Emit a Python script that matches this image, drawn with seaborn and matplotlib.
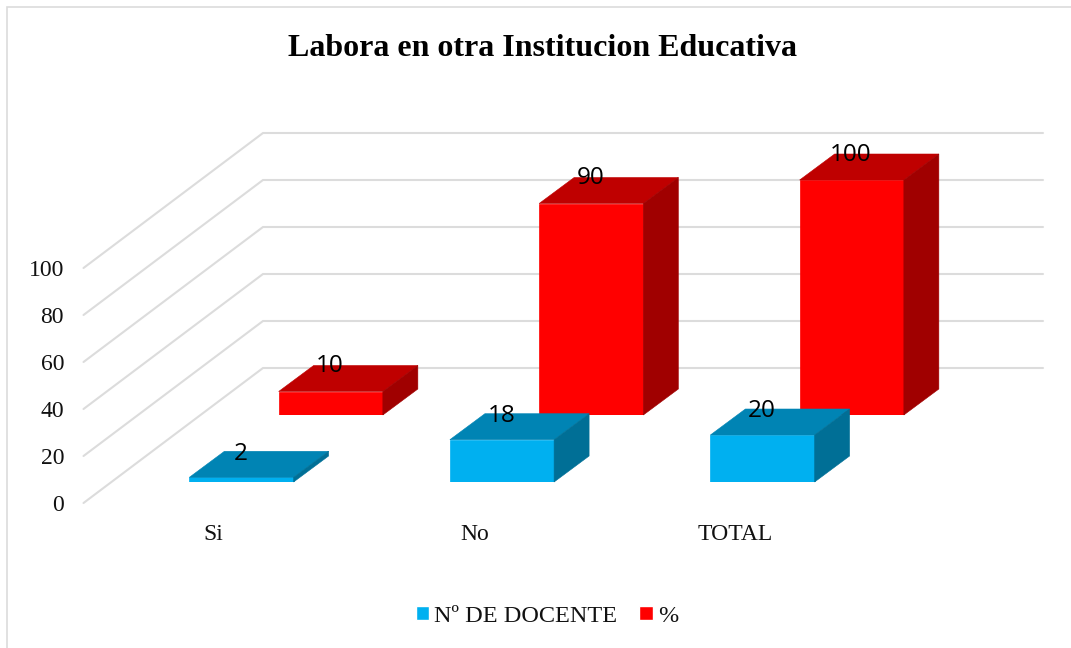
import matplotlib
matplotlib.use('Agg')
import matplotlib.pyplot as plt
import pandas as pd
import seaborn as sns
from matplotlib.patches import Patch, Polygon, Rectangle

categories = ['Si', 'No', 'TOTAL']
docentes = [2, 18, 20]
porcentaje = [10, 90, 100]
y_ticks = [0, 20, 40, 60, 80, 100]
title = 'Labora en otra Institucion Educativa'

W, H = 1071, 648
SERIF = 'Liberation Serif'
GRID = '#dcdcdc'
# 1 category = 260.5 px, 1 y unit = 2.35 px
CAT_PX, UNIT_PX = 260.5, 2.35

sns.set_theme(style='white')
plt.rcParams['font.family'] = SERIF

fig = plt.figure(figsize=(W / 100, H / 100), dpi=100, facecolor='white')


def plane_axes(off_x, off_y):
    # axes for the front plane, moved back by a pixel offset
    ax = fig.add_axes([(83.5 + off_x) / W, (H - 503 + off_y) / H, 3 * CAT_PX / W, 100 * UNIT_PX / H])
    ax.set_xlim(-0.5, 2.5)
    ax.set_ylim(0, 100)
    ax.patch.set_alpha(0)
    sns.despine(ax=ax, left=True, bottom=True)
    return ax


def bars_3d(off_x, off_y, values, front, top, side, label_dx, label_dy):
    ax = plane_axes(off_x, off_y)
    df = pd.DataFrame({'cat': categories, 'val': values})
    sns.barplot(data=df, x='cat', y='val', ax=ax, color=front, saturation=1, width=0.4)
    ax.set_xlim(-0.5, 2.5)
    ax.set_ylim(0, 100)
    ax.set_xlabel('')
    ax.set_ylabel('')
    ax.set_xticks([])
    ax.set_yticks([])
    dx, dy = 35 / CAT_PX, 26 / UNIT_PX
    for bar, v in zip(ax.patches, values):
        x0, x1 = bar.get_x(), bar.get_x() + bar.get_width()
        bar.set_edgecolor(front)
        bar.set_linewidth(0.5)
        ax.add_patch(Polygon([(x0, v), (x1, v), (x1 + dx, v + dy), (x0 + dx, v + dy)],
                             facecolor=top, edgecolor=top, lw=0.4, clip_on=False))
        ax.add_patch(Polygon([(x1, 0), (x1 + dx, dy), (x1 + dx, v + dy), (x1, v)],
                             facecolor=side, edgecolor=side, lw=0.4, clip_on=False))
        ax.text(x0 + label_dx, v + dy + label_dy, str(v), family='Open Sans', fontsize=17.5,
                color='black', ha='center', va='center', clip_on=False, zorder=5)
    return ax


# walls and gridlines drawn on the front plane axes
ax = plane_axes(0, 0)
wall_x, wall_y = 179.5 / CAT_PX, 135 / UNIT_PX
for v in y_ticks:
    ax.plot([-0.5, -0.5 + wall_x, 2.5 + wall_x - 1.5 / CAT_PX], [v, v + wall_y, v + wall_y],
            color=GRID, lw=1.5, clip_on=False, solid_joinstyle='miter')
ax.set_xticks(range(len(categories)))
ax.set_xticklabels(categories)
ax.set_yticks(y_ticks)
ax.tick_params(axis='x', length=0, labelsize=17, pad=15, colors='#111111')
ax.tick_params(axis='y', length=0, labelsize=17, pad=14, colors='#111111')

# red row sits further back, blue row in front of it
bars_3d(117, 88, porcentaje, '#FF0000', '#BF0000', '#A00000', 0.197, -0.4)
bars_3d(27.75, 21, docentes, '#00B0F0', '#0084B4', '#006F96', 0.198, -1.0)

fig.text(543 / W, 1 - 48.5 / H, title, family=SERIF, fontsize=23, fontweight='bold',
         ha='center', va='center', color='black')

handles = [Patch(facecolor='#00B0F0', label='Nº DE DOCENTE'), Patch(facecolor='#FF0000', label='%')]
fig.legend(handles=handles, loc='center', bbox_to_anchor=(547 / W, 1 - 616 / H), ncol=2, frameon=False,
           fontsize=17.5, handlelength=0.55, handleheight=0.55, handletextpad=0.22, columnspacing=0.9,
           labelcolor='#111111')

# chart frame
fig.add_artist(Rectangle((7 / W, -0.1), 1.2, 1.1 - 7 / H, transform=fig.transFigure, fill=False,
                         edgecolor=GRID, lw=1.2))

fig.savefig('out.png', dpi=100)
